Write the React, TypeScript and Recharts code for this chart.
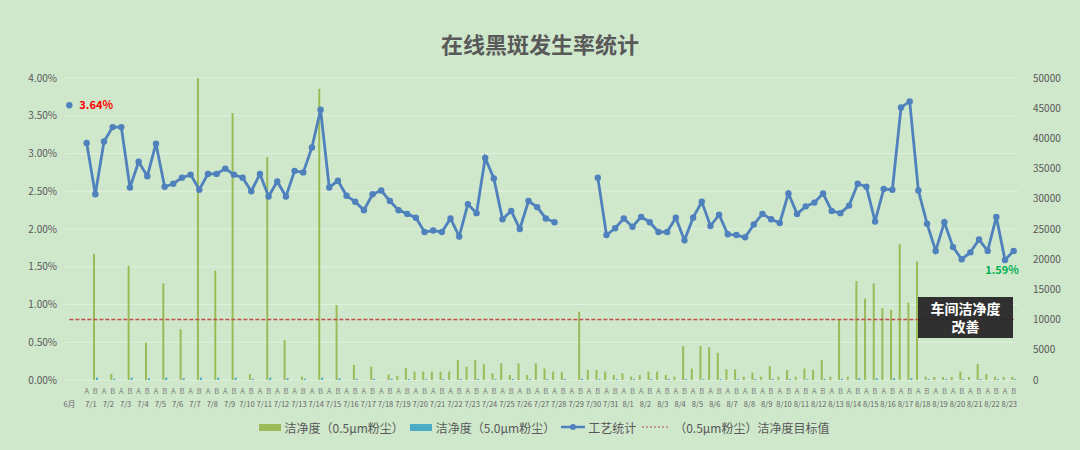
import { ComposedChart, Bar, Line, XAxis, YAxis, CartesianGrid, Legend, LabelList } from 'recharts'

const FONT = '"Noto Sans CJK SC", "Noto Sans", sans-serif'

const dates = [
  '7/1', '7/2', '7/3', '7/4', '7/5', '7/6', '7/7', '7/8', '7/9', '7/10',
  '7/11', '7/12', '7/13', '7/14', '7/15', '7/16', '7/17', '7/18', '7/19', '7/20',
  '7/21', '7/22', '7/23', '7/24', '7/25', '7/26', '7/27', '7/28', '7/29', '7/30', '7/31',
  '8/1', '8/2', '8/3', '8/4', '8/5', '8/6', '8/7', '8/8', '8/9', '8/10',
  '8/11', '8/12', '8/13', '8/14', '8/15', '8/16', '8/17', '8/18', '8/19', '8/20',
  '8/21', '8/22', '8/23',
]

// 工艺统计 (%) — A / B shift
const juneRate = 3.64
const rateA = [
  3.14, 3.16, 3.35, 2.89, 3.13, 2.6, 2.72, 2.73, 2.8, 2.68,
  2.73, 2.63, 2.77, 3.08, 2.55, 2.44, 2.25, 2.51, 2.25, 2.15,
  1.98, 2.14, 2.33, 2.94, 2.13, 2.0, 2.29, 2.09, null, null, 1.92,
  2.14, 2.16, 1.96, 2.15, 2.15, 2.04, 1.93, 1.89, 2.2, 2.08,
  2.2, 2.35, 2.24, 2.31, 2.56, 2.53, 3.61, 2.51, 1.71, 1.76,
  1.69, 1.71, 1.59,
]
const rateB = [
  2.46, 3.35, 2.55, 2.7, 2.56, 2.68, 2.52, 2.73, 2.72, 2.5,
  2.43, 2.43, 2.75, 3.58, 2.64, 2.36, 2.46, 2.37, 2.2, 1.96,
  1.96, 1.9, 2.21, 2.67, 2.24, 2.37, 2.14, null, null, 2.68, 2.01,
  2.03, 2.09, 1.96, 1.85, 2.36, 2.19, 1.92, 2.06, 2.13, 2.47,
  2.3, 2.47, 2.21, 2.6, 2.1, 2.52, 3.69, 2.07, 2.09, 1.6,
  1.86, 2.16, 1.71,
]

// 洁净度（0.5μm粉尘）
const fineA = [
  0, 0, 0, 0, 0, 0, 0, 0, 0, 0,
  0, 0, 0, 0, 0, 0, 0, 0, 700, 1400,
  1400, 1400, 2200, 2600, 2750, 2750, 2750, 1400, 0, 1650, 1400,
  1100, 830, 1400, 550, 1900, 5400, 1770, 550, 550, 550,
  550, 1650, 550, 550, 13500, 11900, 22500, 19600, 500, 500,
  500, 1000, 500,
]
const fineB = [
  20900, 1000, 18900, 6200, 16000, 8400, 50000, 18100, 44200, 1000,
  36900, 6600, 550, 48200, 12400, 2500, 2200, 900, 2000, 1400,
  1400, 3300, 3300, 1100, 830, 830, 1900, 1300, 11300, 1650, 830,
  550, 1400, 830, 5600, 5600, 4500, 1770, 1200, 2300, 1650,
  1900, 3300, 10000, 16400, 16000, 11600, 12800, 550, 500, 1400,
  2650, 550, 500,
]

// 洁净度（5.0μm粉尘）
const coarseB = [
  400, 200, 400, 300, 400, 300, 400, 400, 400, 200,
  400, 300, 200, 400, 300, 200, 200, 200, 150, 150,
  150, 150, 150, 150, 150, 150, 150, 150, 200, 150, 150,
  150, 150, 150, 150, 150, 150, 150, 150, 150, 150,
  150, 150, 200, 300, 300, 300, 300, 150, 150, 150,
  150, 150, 150,
]

const targetValue = 10000

const rows = [
  { key: '6月|', rate: juneRate, fine: null, coarse: null, target: targetValue },
  { key: '|', rate: null, fine: null, coarse: null, target: targetValue },
  ...dates.flatMap((d, i) => [
    { key: `${d}|A`, rate: rateA[i], fine: fineA[i], coarse: 0, target: targetValue },
    { key: `${d}|B`, rate: rateB[i], fine: fineB[i], coarse: coarseB[i], target: targetValue },
  ]),
]

const labelColors: Record<string, string> = { '6月|': '#ff0000', '8/23|A': '#00b050' }

const CHART_W = 1080
const LEFT_W = 65
const RIGHT_W = 62
const CAT_W = (CHART_W - LEFT_W - RIGHT_W) / rows.length

const pctTicks = [0, 0.5, 1, 1.5, 2, 2.5, 3, 3.5, 4]
const countTicks = [0, 5000, 10000, 15000, 20000, 25000, 30000, 35000, 40000, 45000, 50000]

const DateTick = (props: any) => {
  const { x, y, payload } = props
  const [date, shift] = String(payload.value).split('|')
  if (!date && !shift) return null
  return (
    <g>
      {shift && (
        <text x={x} y={y + 6} textAnchor="middle" fontSize={7.5} fill="#808080" fontFamily={FONT}>
          {shift}
        </text>
      )}
      {(shift === 'A' || !shift) && (
        <text
          x={shift === 'A' ? x + CAT_W / 2 : x}
          y={y + 19}
          textAnchor="middle"
          fontSize={7.5}
          fill="#666666"
          fontFamily={FONT}
        >
          {date}
        </text>
      )}
    </g>
  )
}

const RateLabel = (props: any) => {
  const { x, y, value, index } = props
  const row = rows[index]
  if (!row || value == null) return null
  const color = labelColors[row.key]
  if (!color) return null
  if (row.key === '6月|') {
    return (
      <text x={x + 10} y={y + 4} fontSize={11} fontWeight="bold" fill={color} fontFamily={FONT}>
        {value.toFixed(2)}%
      </text>
    )
  }
  return (
    <text x={x - 3} y={y + 14} textAnchor="middle" fontSize={11} fontWeight="bold" fill={color} fontFamily={FONT}>
      {value.toFixed(2)}%
    </text>
  )
}

const LegendBox = () => {
  const item = { display: 'flex', alignItems: 'center', marginRight: 6 } as const
  return (
    <div
      style={{
        height: 30,
        display: 'flex',
        justifyContent: 'center',
        alignItems: 'center',
        fontSize: 12,
        color: '#595959',
        fontFamily: FONT,
        paddingLeft: 14,
      }}
    >
      <div style={item}>
        <span style={{ width: 22, height: 7, background: '#9bbb59', marginRight: 4 }} />
        洁净度（0.5μm粉尘）
      </div>
      <div style={item}>
        <span style={{ width: 22, height: 7, background: '#4bacc6', marginRight: 4 }} />
        洁净度（5.0μm粉尘）
      </div>
      <div style={item}>
        <svg width={24} height={10} style={{ marginRight: 3 }}>
          <line x1={0} y1={5} x2={24} y2={5} stroke="#4f81bd" strokeWidth={2.5} />
          <circle cx={12} cy={5} r={3} fill="#4f81bd" />
        </svg>
        工艺统计
      </div>
      <div style={item}>
        <svg width={28} height={10} style={{ marginRight: 4 }}>
          <line x1={0} y1={5} x2={28} y2={5} stroke="#c0504d" strokeWidth={1} strokeDasharray="2 2" />
        </svg>
        （0.5μm粉尘）洁净度目标值
      </div>
    </div>
  )
}

export default function App() {
  return (
    <div
      style={{
        position: 'absolute',
        left: 0,
        top: 0,
        width: CHART_W,
        height: 450,
        background: '#cfe7cb',
        fontFamily: FONT,
      }}
    >
      <div
        style={{
          position: 'absolute',
          top: 29,
          width: CHART_W,
          textAlign: 'center',
          fontSize: 22,
          fontWeight: 'bold',
          color: '#595959',
          lineHeight: '28px',
        }}
      >
        在线黑斑发生率统计
      </div>
      <ComposedChart
        width={CHART_W}
        height={450}
        data={rows}
        margin={{ top: 78, right: 0, bottom: 8, left: 0 }}
        barGap={1}
      >
        <CartesianGrid yAxisId="left" vertical={false} stroke="#ffffff" strokeOpacity={0.4} />
        <XAxis
          dataKey="key"
          interval={0}
          tickLine={false}
          axisLine={false}
          height={32}
          tick={<DateTick />}
        />
        <YAxis
          yAxisId="left"
          width={LEFT_W}
          domain={[0, 4]}
          ticks={pctTicks}
          tickFormatter={(v: number) => `${v.toFixed(2)}%`}
          tickLine={false}
          axisLine={false}
          tick={{ fontSize: 10, fill: '#595959', fontFamily: FONT }}
        />
        <YAxis
          yAxisId="right"
          orientation="right"
          width={RIGHT_W}
          domain={[0, 50000]}
          ticks={countTicks}
          tickLine={false}
          axisLine={false}
          tickMargin={9}
          tick={{ fontSize: 10, fill: '#595959', fontFamily: FONT }}
        />
        <Legend verticalAlign="bottom" height={30} content={<LegendBox />} />
        <Bar yAxisId="right" dataKey="fine" fill="#9bbb59" barSize={2} isAnimationActive={false} />
        <Bar yAxisId="right" dataKey="coarse" fill="#4bacc6" barSize={2} isAnimationActive={false} />
        <Line
          yAxisId="right"
          dataKey="target"
          stroke="#c0504d"
          strokeWidth={1.5}
          strokeDasharray="4 2"
          dot={false}
          activeDot={false}
          isAnimationActive={false}
        />
        <Line
          yAxisId="left"
          dataKey="rate"
          stroke="#4f81bd"
          strokeWidth={2.8}
          dot={{ r: 3.2, fill: '#4f81bd', stroke: '#4f81bd', strokeWidth: 0 }}
          activeDot={false}
          isAnimationActive={false}
        >
          <LabelList dataKey="rate" content={<RateLabel />} />
        </Line>
      </ComposedChart>
      <div
        style={{
          position: 'absolute',
          left: 918,
          top: 297,
          width: 95,
          height: 41,
          background: 'rgba(38,38,38,0.95)',
          color: '#ffffff',
          fontSize: 14,
          fontWeight: 'bold',
          textAlign: 'center',
          lineHeight: '18px',
          paddingTop: 2,
          boxSizing: 'border-box',
        }}
      >
        车间洁净度
        <br />
        改善
      </div>
    </div>
  )
}
